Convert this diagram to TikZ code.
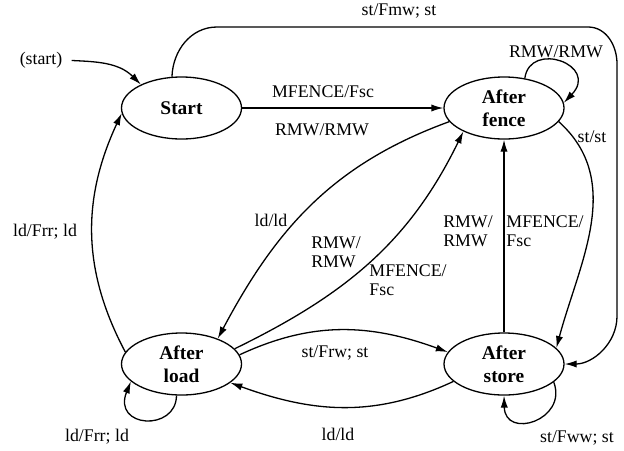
\documentclass[tikz,border=0pt]{standalone}
\usepackage{fontspec}
\setmainfont{Liberation Serif}
\usetikzlibrary{arrows.meta,shapes.geometric}
\begin{document}
\begin{tikzpicture}[x=0.5pt,y=-0.5pt,
  state/.style={ellipse,draw,line width=0.65pt,minimum width=60pt,minimum height=31pt,inner sep=0pt,font=\fontsize{9.7}{11.5}\selectfont\bfseries,align=center},
  lbl/.style={font=\fontsize{8.9}{9.6}\selectfont,inner sep=0pt,align=left},
  edge/.style={line width=0.65pt,-{Latex[length=6pt,width=3.6pt]}},
]
\useasboundingbox (0,0) rectangle (624,450);
\node[state] (S) at (181.5,108) {Start};
\node[state] (F) at (504,108) {After\\fence};
\node[state] (L) at (181.5,364) {After\\load};
\node[state] (T) at (504,364) {After\\store};

\node[lbl] (init) at (41,60) {(start)};
\node[lbl] (l1) at (323,92) {MFENCE/Fsc};
\node[lbl] (l2) at (322,130) {RMW/RMW};
\node[lbl] (l3) at (399,11) {st/Fmw; st};
\node[lbl] (l4) at (556,52) {RMW/RMW};
\node[lbl] (l5) at (592,137) {st/st};
\node[lbl] (l6) at (271,220) {ld/ld};
\node[lbl] (l7) at (336,252) {RMW/\\RMW};
\node[lbl] (l8) at (408,280) {MFENCE/\\Fsc};
\node[lbl] (l9) at (468,231) {RMW/\\RMW};
\node[lbl] (l10) at (545,231) {MFENCE/\\Fsc};
\node[lbl] (l11) at (335,353) {st/Frw; st};
\node[lbl] (l12) at (338,434) {ld/ld};
\node[lbl] (l13) at (577,438) {st/Fww; st};
\node[lbl] (l14) at (97,437) {ld/Frr; ld};
\node[lbl] (l15) at (45,232) {ld/Frr; ld};

\draw[edge,shorten <=4.5pt] (init.east) to[out=-3,in=135] (S.150);
\draw[edge] (S) -- (F);
\draw[edge] (S.107) to[out=88,in=180] (217,27) -- (588,27) to[out=0,in=90] (617,64) -- (617,316) to[out=-90,in=0] (T.east);
\draw[edge] (F.55) .. controls (530,40) and (600,65) .. (F.5);
\draw[edge] (F.-14) to[out=-42,in=75] (T.17);
\draw[edge] (F.194) to[out=200,in=62] (L.35);
\draw[edge] (L.16) to[out=26,in=244] (F.210);
\draw[edge] (L.9) to[out=25,in=160] (T.168);
\draw[edge] (T) -- (F);
\draw[edge] (T.199) to[out=205,in=-20] (L.-21);
\draw[edge] (T.-20) .. controls (568,420) and (505,440) .. (T.-90);
\draw[edge] (L.-99) .. controls (176,432) and (112,428) .. (L.199);
\draw[edge] (L.168) to[out=118,in=245] (S.185);
\end{tikzpicture}
\end{document}
